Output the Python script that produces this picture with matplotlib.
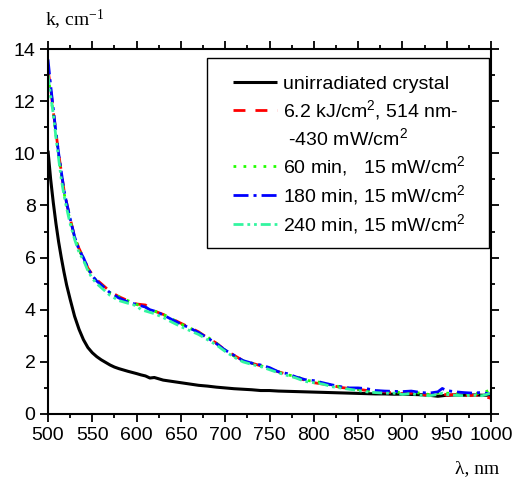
import matplotlib
matplotlib.use("Agg")
import matplotlib.pyplot as plt
from matplotlib.lines import Line2D
from matplotlib.patches import Rectangle
from matplotlib.ticker import MultipleLocator

plt.rcParams['font.family'] = ['Liberation Sans', 'DejaVu Sans']
plt.rcParams['mathtext.fontset'] = 'custom'
plt.rcParams['mathtext.rm'] = 'Liberation Sans'

wavelength = [500, 503, 506, 509, 512, 515, 518, 521, 525, 530,
              535, 540, 545, 550, 555, 560, 565, 570, 575, 580,
              590, 600, 605, 610, 615, 620, 630, 640, 650, 660,
              670, 680, 690, 700, 710, 720, 730, 740, 750, 760,
              770, 780, 790, 800, 810, 820, 830, 840, 850, 860,
              870, 880, 890, 900, 910, 920, 930, 940, 945, 950,
              960, 970, 980, 990, 1000]

k_unirradiated = [10.1, 9.0, 8.1, 7.3, 6.6, 6.0, 5.45, 4.95, 4.4, 3.75,
                  3.25, 2.85, 2.55, 2.35, 2.2, 2.08, 1.98, 1.88, 1.8, 1.74,
                  1.64, 1.55, 1.5, 1.46, 1.38, 1.4, 1.3, 1.25, 1.2, 1.15,
                  1.1, 1.07, 1.03, 1.0, 0.97, 0.95, 0.93, 0.9, 0.9, 0.88,
                  0.87, 0.86, 0.85, 0.84, 0.83, 0.82, 0.81, 0.8, 0.79, 0.78,
                  0.77, 0.77, 0.76, 0.76, 0.75, 0.74, 0.72, 0.68, 0.7, 0.72,
                  0.73, 0.72, 0.73, 0.72, 0.72]

k_62kJ = [13.2, 12.5, 11.6, 10.8, 10.0, 9.3, 8.6, 8.1, 7.5, 6.8,
          6.35, 6.0, 5.6, 5.35, 5.15, 5.0, 4.85, 4.7, 4.6, 4.5,
          4.35, 4.22, 4.2, 4.18, 4.05, 3.95, 3.82, 3.65, 3.48, 3.32,
          3.15, 2.92, 2.72, 2.45, 2.25, 2.05, 1.95, 1.85, 1.72, 1.62,
          1.52, 1.4, 1.3, 1.2, 1.15, 1.1, 1.02, 0.98, 0.95, 0.9,
          0.88, 0.85, 0.8, 0.78, 0.8, 0.75, 0.72, 0.78, 0.8, 0.72,
          0.75, 0.7, 0.72, 0.7, 0.6]

k_60min = [13.0, 12.3, 11.5, 10.7, 9.9, 9.2, 8.5, 8.0, 7.4, 6.8,
           6.3, 5.95, 5.55, 5.3, 5.1, 4.95, 4.8, 4.65, 4.6, 4.5,
           4.35, 4.2, 4.15, 4.1, 4.0, 3.95, 3.82, 3.65, 3.45, 3.3,
           3.12, 2.95, 2.72, 2.45, 2.22, 2.05, 1.95, 1.85, 1.75, 1.6,
           1.5, 1.45, 1.3, 1.25, 1.2, 1.1, 1.05, 0.98, 0.95, 0.9,
           0.88, 0.86, 0.85, 0.82, 0.85, 0.8, 0.75, 0.8, 0.85, 0.8,
           0.78, 0.76, 0.8, 0.78, 0.95]

k_180min = [13.6, 12.6, 11.7, 10.8, 10.0, 9.3, 8.6, 8.1, 7.5, 6.8,
            6.3, 6.0, 5.6, 5.3, 5.1, 4.95, 4.8, 4.65, 4.55, 4.45,
            4.3, 4.2, 4.15, 4.1, 4.0, 3.95, 3.8, 3.62, 3.45, 3.3,
            3.12, 2.92, 2.7, 2.45, 2.25, 2.05, 1.95, 1.88, 1.78, 1.62,
            1.55, 1.42, 1.32, 1.28, 1.2, 1.12, 1.05, 1.0, 1.0, 0.97,
            0.9, 0.88, 0.87, 0.86, 0.88, 0.83, 0.8, 0.85, 0.98, 0.9,
            0.85, 0.82, 0.8, 0.83, 0.75]

k_240min = [13.0, 12.2, 11.5, 10.6, 9.8, 9.0, 8.4, 7.9, 7.3, 6.7,
            6.2, 5.9, 5.5, 5.2, 5.0, 4.85, 4.7, 4.55, 4.45, 4.35,
            4.25, 4.15, 4.0, 3.95, 3.9, 3.85, 3.7, 3.52, 3.35, 3.2,
            3.05, 2.85, 2.65, 2.4, 2.18, 2.0, 1.9, 1.82, 1.7, 1.58,
            1.48, 1.38, 1.25, 1.2, 1.15, 1.05, 1.0, 0.95, 0.9, 0.85,
            0.82, 0.8, 0.8, 0.75, 0.78, 0.72, 0.7, 0.75, 0.8, 0.75,
            0.72, 0.7, 0.72, 0.7, 0.8]

labels = ["unirradiated crystal",
          r"6.2 kJ/cm$\mathregular{^2}$, 514 nm-",
          r" -430 mW/cm$\mathregular{^2}$",
          r"60 min,   15 mW/cm$\mathregular{^2}$",
          r"180 min, 15 mW/cm$\mathregular{^2}$",
          r"240 min, 15 mW/cm$\mathregular{^2}$"]

fig = plt.figure(figsize=(5.28, 4.79), dpi=100)
ax = fig.add_axes([48/528, 1-414/479, 443/528, 365/479])

lw = 2.0
l0, = ax.plot(wavelength, k_unirradiated, color='black', lw=2.2, solid_capstyle='butt')
l1, = ax.plot(wavelength, k_62kJ, color='#ff0000', lw=lw, dashes=(4.3, 3.6))
l2, = ax.plot(wavelength, k_60min, color='#22ff00', lw=lw, dashes=(1.0, 2.6))
l3, = ax.plot(wavelength, k_180min, color='#0000ff', lw=lw, dashes=(5.4, 1.8, 1.1, 1.8))
l4, = ax.plot(wavelength, k_240min, color='#33f5a0', lw=lw, dashes=(3.6, 1.4, 1.0, 1.4, 1.0, 1.4))
blank = Line2D([], [], color='none')

ax.set_xlim(500, 1000)
ax.set_ylim(0, 14)
ax.xaxis.set_major_locator(MultipleLocator(50))
ax.xaxis.set_minor_locator(MultipleLocator(25))
ax.yaxis.set_major_locator(MultipleLocator(2))
ax.yaxis.set_minor_locator(MultipleLocator(1))
ax.tick_params(which='both', direction='out', top=True, right=True,
               labeltop=False, labelright=False, width=1.3, labelsize=14)
ax.tick_params(which='major', length=6, pad=3)
ax.tick_params(which='minor', length=3)
for s in ax.spines.values():
    s.set_linewidth(1.5)

# legend frame
frame = Rectangle((207/528, 1-248/479), 282/528, 190/479, transform=fig.transFigure,
                  facecolor='white', edgecolor='black', lw=1.0, zorder=4, clip_on=False)
ax.add_patch(frame)

leg = ax.legend([l0, l1, blank, l2, l3, l4], labels,
                loc='upper left', bbox_to_anchor=((233-48)/443, (414-75)/365),
                borderaxespad=0, fontsize=14, handlelength=2.26,
                handletextpad=0.31, labelspacing=0.27, borderpad=0,
                frameon=False)
leg.set_zorder(5)

fig.text(45/528, 1-26/479, r"k, cm$\mathregular{^{-1}}$", family='Liberation Serif',
         fontsize=14, ha='left', va='baseline')
fig.text(455/528, 1-473/479, "λ, nm", family='Liberation Serif',
         fontsize=14, ha='left', va='baseline')

fig.savefig("out.png", dpi=100)
